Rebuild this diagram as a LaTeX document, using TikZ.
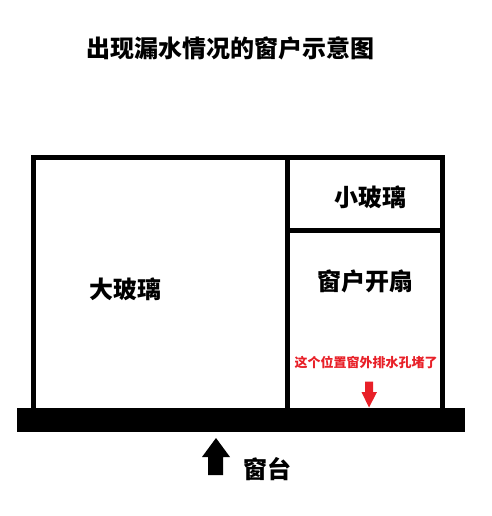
\documentclass[tikz,border=0pt]{standalone}
\usepackage{fontspec}
\newfontfamily\cjk{Noto Sans CJK SC}
\usepackage{tikz}
\usetikzlibrary{positioning}
\definecolor{warnred}{RGB}{232,32,40}

\begin{document}
\begin{tikzpicture}[x=1pt,y=-1pt,
	frame/.style={line width=5pt,line join=miter},
	lbl/.style={inner sep=0pt,font=\cjk\bfseries\fontsize{24}{24}\selectfont},
	note/.style={inner sep=0pt,text=warnred,font=\cjk\bfseries\fontsize{13}{13}\selectfont},
	]
	\useasboundingbox (0,0) rectangle (491,516);
	%Title
	\node[lbl] (title) at (230,48.5) {出现漏水情况的窗户示意图};
	%Window frame
	\draw[frame] (33.5,408) -- (33.5,157.5) -- (442,157.5) -- (442,408);
	\draw[frame] (287.5,157.5) -- (287.5,408);
	\draw[frame] (287.5,230.5) -- (442,230.5);
	%Sill
	\fill (16.7,408.3) rectangle (465.3,431.7);
	%labels
	\node[lbl] (big) at (125,289) {大玻璃};
	\node[lbl] (small) at (370,197.5) {小玻璃};
	\node[lbl] (sash) at (365,281.5) {窗户开扇};
	\node[note] (drain) at (366,362.5) {这个位置窗外排水孔堵了};
	\node[lbl] (sill) at (267.5,469) {窗台};
	%arrows
	\fill[warnred] (365,381.5) -- (373,381.5) -- (373,392) -- (377,392) -- (369,407.5) -- (361.5,392) -- (365,392) -- cycle;
	\fill (208,475) -- (223,475) -- (223,457) -- (230,457) -- (216,438) -- (202,457) -- (208,457) -- cycle;
\end{tikzpicture}
\end{document}
